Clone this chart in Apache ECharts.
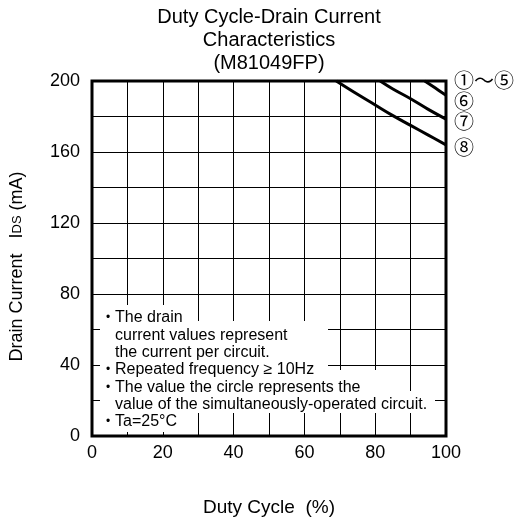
<!DOCTYPE html>
<html>
<head>
<meta charset="utf-8">
<script src="https://cdn.jsdelivr.net/npm/echarts@6/dist/echarts.min.js"></script>
<style>html,body{margin:0;padding:0;background:#fff}#c{width:515px;height:522px}</style>
</head>
<body>
<div id="c"></div>
<script>
// Data
const titleLines = ['Duty Cycle-Drain Current', 'Characteristics', '(M81049FP)'];
const xTickLabels = [0, 20, 40, 60, 80, 100];
const yTickLabels = [0, 40, 80, 120, 160, 200];
const curve6 = [[94, 200], [97, 196], [100, 192]];
const curve7 = [[81.4, 200], [85, 195.5], [90, 190], [95, 184], [100, 178.5]];
const curve8 = [[69, 200], [75, 192.5], [80, 186.5], [85, 180.5], [90, 175], [95, 169.5], [100, 164]];
const curveLabels = ['①〜⑤', '⑥', '⑦', '⑧'];
const noteLines = [
  {b: true, t: 'The drain'},
  {b: false, t: 'current values represent'},
  {b: false, t: 'the current per circuit.'},
  {b: true, t: 'Repeated frequency \u2265 10Hz'},
  {b: true, t: 'The value the circle represents the'},
  {b: false, t: 'value of the simultaneously-operated circuit.'},
  {b: true, t: 'Ta=25°C'}
];

const FONT = '"Liberation Sans", Arial, Helvetica, sans-serif';
const chart = echarts.init(document.getElementById('c'));

const graphics = [];
// white background blocks behind the notes
const blocks = [
  [100, 305, 88, 17],
  [100, 321, 228, 50],
  [100, 370, 280, 22],
  [100, 391, 335, 22],
  [100, 412, 90, 20]
];
blocks.forEach(b => graphics.push({type: 'rect', z: 100, shape: {x: b[0], y: b[1], width: b[2], height: b[3]}, style: {fill: '#fff'}}));
noteLines.forEach((ln, i) => {
  const y = 318 + i * 17.3;
  if (ln.b) graphics.push({type: 'text', z: 101, x: 108, y: y, style: {text: '•', font: '12px ' + FONT, fill: '#000', verticalAlign: 'middle', align: 'center'}});
  graphics.push({type: 'text', z: 101, x: 115, y: y, style: {text: ln.t, font: '16px ' + FONT, fill: '#000', verticalAlign: 'middle'}});
});
const labelYs = [80, 101.5, 121.5, 147];
curveLabels.forEach((t, i) => graphics.push({type: 'text', z: 101, x: 454, y: labelYs[i], style: {text: t, font: '20px "Noto Sans CJK JP", "DejaVu Sans", sans-serif', fill: '#000', verticalAlign: 'middle'}}));
titleLines.forEach((t, i) => graphics.push({type: 'text', z: 101, x: 269, y: 17 + i * 23, style: {text: t, font: '20px ' + FONT, fill: '#000', align: 'center', verticalAlign: 'middle'}}));

const lineSeries = (d) => ({type: 'line', data: d, showSymbol: false, smooth: 0.4, lineStyle: {color: '#000', width: 3}, z: 5, silent: true});

chart.setOption({
  animation: false,
  backgroundColor: '#fff',
  grid: {left: 92, right: 69, top: 81, bottom: 85, show: true, borderColor: '#000', borderWidth: 3, backgroundColor: '#fff'},
  xAxis: {
    type: 'value', min: 0, max: 100, interval: 10,
    name: 'Duty Cycle  (%)', nameLocation: 'middle', nameGap: 62,
    nameTextStyle: {fontFamily: FONT, fontSize: 19, color: '#000'},
    axisLine: {show: false}, axisTick: {show: false},
    axisLabel: {margin: 8, fontFamily: FONT, fontSize: 18, color: '#000', formatter: v => xTickLabels.includes(v) ? String(v) : ''},
    splitLine: {show: true, lineStyle: {color: '#000', width: 1}}
  },
  yAxis: {
    type: 'value', min: 0, max: 200, interval: 20,
    name: 'Drain Current   I{s|DS} (mA)', nameLocation: 'middle', nameGap: 66,
    nameTextStyle: {fontFamily: FONT, fontSize: 18, color: '#000', padding: [0, 16, 0, 0], rich: {s: {fontFamily: FONT, fontSize: 13, color: '#000'}}},
    axisLine: {show: false}, axisTick: {show: false},
    axisLabel: {margin: 12, fontFamily: FONT, fontSize: 18, color: '#000', formatter: v => yTickLabels.includes(v) ? String(v) : ''},
    splitLine: {show: true, lineStyle: {color: '#000', width: 1}}
  },
  graphic: graphics,
  series: [lineSeries(curve6), lineSeries(curve7), lineSeries(curve8)]
});
</script>
</body>
</html>
